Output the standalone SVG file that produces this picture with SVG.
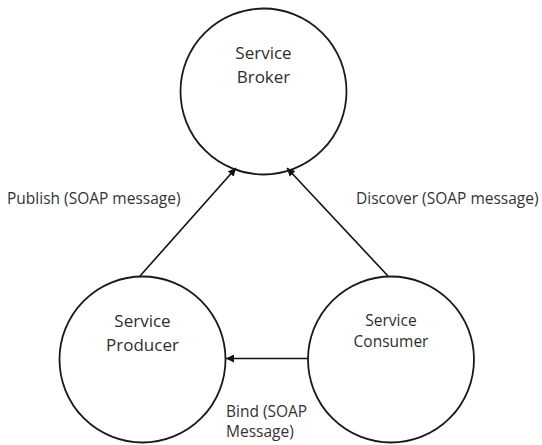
<svg xmlns="http://www.w3.org/2000/svg" width="542" height="445" viewBox="0 0 542 445">
<defs>
<marker id="ah" viewBox="0 0 10 10" refX="10" refY="5" markerWidth="8" markerHeight="8" markerUnits="userSpaceOnUse" orient="auto">
<path d="M0,0 L10,5 L0,10 z" fill="#111"/>
</marker>
<style>
.node{fill:#fff;stroke:#1a1a1a;stroke-width:1.8}
.t{font-family:"Open Sans","Liberation Sans",Arial,sans-serif;font-size:17px;fill:#2e2e2e;text-anchor:middle}
.s{font-size:15.5px}
.l{font-family:"Open Sans","Liberation Sans",Arial,sans-serif;font-size:15.5px;fill:#333}
.c{stroke:#111;stroke-width:1.6;fill:none;marker-end:url(#ah)}
</style>
</defs>
<rect width="542" height="445" fill="#fff"/>
<g id="broker">
<circle class="node" cx="263.5" cy="91.5" r="83"/>
<text class="t" x="263.5" y="59">Service</text>
<text class="t" x="263.5" y="83">Broker</text>
</g>
<g id="producer">
<circle class="node" cx="142.5" cy="359.5" r="83"/>
<text class="t" x="142.5" y="327">Service</text>
<text class="t" x="142.5" y="351">Producer</text>
</g>
<g id="consumer">
<circle class="node" cx="391" cy="359.5" r="83"/>
<text class="t s" x="391" y="326">Service</text>
<text class="t s" x="391" y="347">Consumer</text>
</g>
<g id="connectors">
<line class="c" x1="140" y1="276" x2="236" y2="168"/>
<line class="c" x1="388" y1="276" x2="287" y2="168"/>
<line class="c" x1="308" y1="358.5" x2="226" y2="358.5"/>
</g>
<g id="labels">
<text class="l" x="7" y="204">Publish (SOAP message)</text>
<text class="l" x="356" y="204">Discover (SOAP message)</text>
<text class="l" x="226" y="417" font-size="14">Bind (SOAP</text>
<text class="l" x="226" y="437" font-size="14">Message)</text>
</g>
</svg>
